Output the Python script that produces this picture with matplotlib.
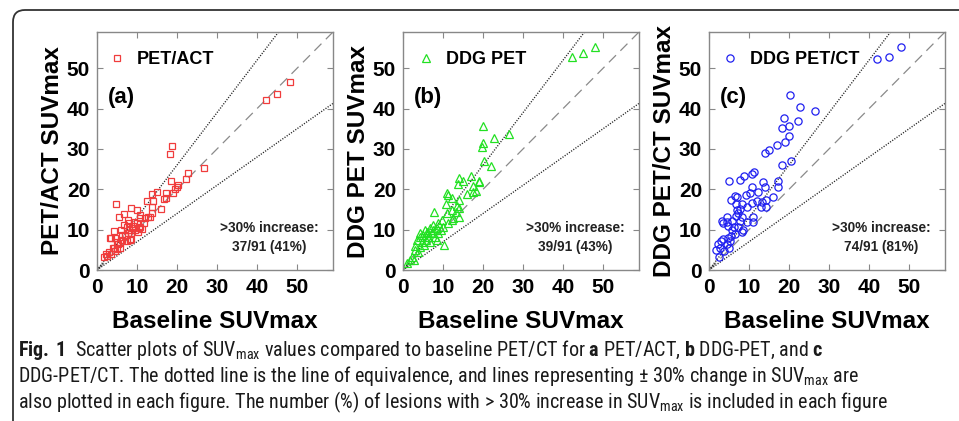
import matplotlib
matplotlib.use("Agg")
import matplotlib.pyplot as plt
from matplotlib.patches import FancyBboxPatch
from matplotlib.transforms import IdentityTransform
from matplotlib import font_manager

# ---- data ----
# (a) PET/ACT vs baseline
base_a = [42.2, 44.9, 48.2, 18.8, 18.2, 26.7, 22.7, 22.2, 20.2, 20.0, 19.6, 18.5, 19.0, 17.2,
          17.25, 16.8, 14.9, 13.8, 12.5, 14.0, 15.9, 13.75, 13.75, 13.25, 4.8, 5.6, 6.8, 8.6,
          10.1, 10.75, 12.0, 12.7, 7.8, 6.75, 8.9, 9.9, 10.75, 11.2, 9.5, 8.1, 7.4, 6.9, 6.2,
          8.5, 7.4, 4.3, 3.4, 4.5, 5.0, 5.3, 3.9, 4.5, 5.1, 2.9, 2.25, 1.8, 2.6, 3.5, 5.75,
          6.3, 7.8, 8.6, 10.3, 5.75, 7.9, 8.75, 7.1, 8.3, 10.8, 10.4, 11.7, 4.2, 3.3, 6.0, 9.2]
suv_a = [42.1, 43.6, 46.6, 30.7, 28.8, 25.2, 24.0, 22.6, 21.0, 20.5, 20.1, 22.1, 19.0, 19.0,
         17.9, 17.7, 19.4, 18.8, 17.0, 17.1, 15.0, 15.5, 14.2, 13.2, 16.3, 13.2, 13.8, 15.3,
         14.9, 13.6, 12.8, 13.2, 12.4, 11.2, 10.9, 11.6, 10.7, 10.1, 9.9, 9.9, 10.7, 8.4, 8.7,
         7.6, 7.3, 9.75, 7.9, 7.9, 6.9, 6.4, 5.5, 4.8, 5.1, 4.5, 4.0, 3.3, 3.5, 4.0, 6.8,
         7.4, 9.1, 9.1, 9.3, 5.4, 11.6, 10.3, 8.7, 7.4, 12.8, 10.3, 11.6, 5.4, 7.85, 10.0, 12.0]

# (b) DDG PET vs baseline
base_b = [42.2, 45.1, 48.1, 20.1, 19.9, 19.7, 22.7, 26.5, 20.2, 22.1, 16.9, 14.1, 14.9, 13.75,
          18.9, 18.9, 17.4, 18.25, 17.6, 15.9, 10.9, 11.3, 10.75, 12.2, 13.9, 13.9, 13.6, 13.2,
          12.2, 10.9, 12.6, 14.1, 7.8, 10.25, 9.7, 8.8, 7.6, 6.75, 8.4, 9.4, 5.9, 7.2, 5.1,
          4.25, 6.3, 8.0, 3.4, 4.7, 5.75, 3.0, 4.25, 5.25, 3.0, 3.8, 2.2, 1.75, 2.75, 1.1,
          6.75, 8.8, 10.1, 11.2, 12.2, 4.25, 5.5, 7.6, 6.3, 8.4]
suv_b = [52.7, 53.9, 55.3, 35.8, 31.6, 30.6, 32.8, 33.6, 26.9, 25.8, 23.3, 22.7, 22.1, 21.2,
         22.1, 21.7, 20.7, 19.7, 19.4, 18.8, 19.2, 18.6, 16.4, 17.8, 17.4, 15.3, 15.9, 14.5,
         14.9, 14.2, 12.8, 13.1, 14.3, 6.2, 12.4, 11.7, 11.2, 10.3, 10.3, 9.9, 9.5, 9.1, 8.7,
         8.1, 8.1, 8.3, 7.4, 7.0, 7.4, 6.0, 5.8, 6.2, 5.0, 4.5, 3.3, 2.6, 2.5, 1.65,
         7.0, 9.1, 10.7, 11.7, 12.4, 9.1, 9.9, 9.9, 9.1, 7.4]

# (c) DDG PET/CT vs baseline
base_c = [42.1, 45.1, 48.1, 20.25, 22.75, 26.6, 18.8, 18.2, 19.9, 22.2, 20.1, 19.0, 16.9, 14.9,
          14.0, 18.3, 20.4, 5.0, 7.75, 8.75, 10.7, 11.25, 17.3, 17.2, 10.8, 13.6, 13.9, 12.3,
          10.25, 9.3, 6.5, 6.9, 5.5, 6.75, 8.2, 9.4, 10.75, 11.9, 13.25, 14.25, 15.9, 13.0,
          14.25, 7.1, 7.75, 6.75, 7.2, 8.3, 4.4, 3.2, 3.6, 4.4, 4.8, 5.7, 7.75, 9.6, 11.1,
          11.1, 6.5, 8.2, 8.6, 7.3, 5.5, 4.7, 3.6, 5.25, 4.4, 2.9, 2.2, 1.75, 2.75, 3.8, 5.0,
          2.6, 5.7, 6.25]
suv_c = [52.2, 52.9, 55.2, 43.4, 40.3, 39.3, 37.6, 35.1, 35.8, 36.9, 33.1, 31.8, 31.1, 29.8,
         29.1, 26.0, 27.1, 22.1, 22.4, 23.2, 23.8, 24.4, 22.1, 20.5, 20.5, 21.7, 20.5, 19.4,
         19.0, 18.7, 18.4, 18.0, 17.4, 16.4, 16.4, 15.5, 16.7, 17.2, 16.8, 17.4, 18.0, 15.5,
         15.7, 14.9, 15.0, 13.5, 14.1, 13.1, 13.2, 12.2, 11.6, 11.8, 11.0, 12.1, 12.2, 11.8, 11.8,
         13.2, 8.9, 9.3, 9.9, 10.6, 8.5, 7.9, 7.7, 7.3, 6.4, 7.3, 6.4, 5.0, 5.4, 4.8, 5.5,
         3.1, 9.8, 10.6]

names = ["PET/ACT", "DDG PET", "DDG PET/CT"]
ylabels = ["PET/ACT SUVmax", "DDG PET SUVmax", "DDG PET/CT SUVmax"]
tags = ["(a)", "(b)", "(c)"]
counts = ["37/91 (41%)", "39/91 (43%)", "74/91 (81%)"]
ticks = [0, 10, 20, 30, 40, 50]
lim = 59


def wnum(w):
    return w if isinstance(w, int) else font_manager.weight_dict.get(str(w), 400)


def narrow_font():
    # look for a condensed / narrow sans face with a regular weight for the caption
    wanted = ["Liberation Sans Narrow", "Open Sans Condensed", "Noto Sans Condensed",
              "Open Sans", "Noto Sans", "Roboto Condensed", "Roboto", "DejaVu Sans"]
    found = {}
    for f in font_manager.fontManager.ttflist:
        st = str(f.stretch)
        narrow = ("Narrow" in f.name or "Condensed" in f.name
                  or st in ("condensed", "semi-condensed", "extra-condensed")
                  or (st.isdigit() and int(st) < 500))
        if narrow and f.style == "normal" and 350 <= wnum(f.weight) <= 450:
            found.setdefault(f.name, st)
    for name in wanted:
        if name in found:
            return name, found[name]
    return "Liberation Sans", "normal"


cap_family, cap_stretch = narrow_font()
plt.rcParams["font.family"] = ["Liberation Sans", "DejaVu Sans"]
plt.rcParams["mathtext.fontset"] = "custom"
plt.rcParams["mathtext.rm"] = f"{cap_family}:stretch={cap_stretch}"
plt.rcParams["mathtext.bf"] = f"{cap_family}:bold:stretch={cap_stretch}"

W, H = 959, 421
fig = plt.figure(figsize=(W / 100, H / 100), dpi=100)

# outer rounded frame (only left and top edges show)
frame = FancyBboxPatch((13, -40), 1100, H - 10 + 40, boxstyle="round,pad=0,rounding_size=12",
                       transform=IdentityTransform(), fill=False, ec="#333333", lw=1.3)
fig.add_artist(frame)

series = [(base_a, suv_a, "s", "#f03c3c", 4.3),
          (base_b, suv_b, "^", "#22e022", 5.4),
          (base_c, suv_c, "o", "#2020f0", 5.2)]
lefts = [97, 403, 709]
legend_x = [0.068, 0.080, 0.072]

for i, (bx, sy, mk, col, ms) in enumerate(series):
    ax = fig.add_axes([lefts[i] / W, (H - 270) / H, 236 / W, 238 / H])
    ax.set_xlim(0, lim)
    ax.set_ylim(0, lim)

    # reference lines: identity and +/-30 %
    ax.plot([0, lim], [0, lim], ls=(0, (8, 5)), color="#8a8a8a", lw=0.9)
    ax.plot([0, lim], [0, 1.3 * lim], ls=(0, (0.8, 1.1)), color="#222222", lw=1.0)
    ax.plot([0, lim], [0, 0.7 * lim], ls=(0, (0.8, 1.1)), color="#222222", lw=1.0)

    ax.plot(bx, sy, mk, mfc="none", mec=col, ms=ms, mew=0.9, ls="none", label=names[i])

    ax.legend(loc="upper left", bbox_to_anchor=(legend_x[i] - 0.06, 0.965), frameon=False,
              handlelength=0.8, handletextpad=0.7, borderaxespad=0.2,
              prop={"weight": "bold", "size": 13})

    ax.text(0.105, 0.725, tags[i], transform=ax.transAxes, ha="center", va="center",
            fontsize=16, fontweight="bold")
    ax.text(0.73, 0.135, ">30% increase:\n" + counts[i], transform=ax.transAxes,
            ha="center", va="center", fontsize=9.8, fontweight="bold", color="#222222",
            linespacing=1.45)

    ax.set_xticks(ticks)
    ax.set_yticks(ticks)
    ax.tick_params(direction="in", top=True, right=True, length=4, width=0.8, color="#888888",
                   labelsize=15)
    ax.tick_params(axis="x", pad=6)
    ax.tick_params(axis="y", pad=5)
    for lbl in ax.get_xticklabels() + ax.get_yticklabels():
        lbl.set_fontweight("bold")
    for sp in ax.spines.values():
        sp.set_color("#888888")
        sp.set_linewidth(1.0)

    ax.text(0.5, -0.215, "Baseline SUVmax", transform=ax.transAxes, ha="center", va="center",
            fontsize=17.5, fontweight="bold")
    ax.text(-0.187, 0.5, ylabels[i], transform=ax.transAxes, ha="center", va="center",
            rotation=90, fontsize=17.5, fontweight="bold")

# caption
cap = [r"$\mathbf{Fig.\,1}$  Scatter plots of SUV$_{\mathrm{max}}$ values compared to baseline PET/CT for "
       r"$\mathbf{a}$ PET/ACT, $\mathbf{b}$ DDG-PET, and $\mathbf{c}$",
       r"DDG-PET/CT. The dotted line is the line of equivalence, and lines representing $\pm$ 30% change in "
       r"SUV$_{\mathrm{max}}$ are",
       r"also plotted in each figure. The number (%) of lesions with > 30% increase in SUV$_{\mathrm{max}}$ "
       r"is included in each figure"]
cap_texts = []
for k, line in enumerate(cap):
    t = fig.text(18 / W, (H - 350 - 26 * k) / H, line, ha="left", va="center", fontsize=13,
                 family=cap_family, stretch=cap_stretch, weight="normal", color="#1a1a1a")
    cap_texts.append(t)

# fit the caption block to the reference line lengths (742, 887, 939 px)
fig.canvas.draw()
total = sum(t.get_window_extent().width for t in cap_texts)
longest = max(t.get_window_extent().width for t in cap_texts)
size = min(13 * 2568 / total, 13 * 936 / longest, 14.5)
for t in cap_texts:
    t.set_fontsize(size)

fig.savefig("out.png", dpi=100)
